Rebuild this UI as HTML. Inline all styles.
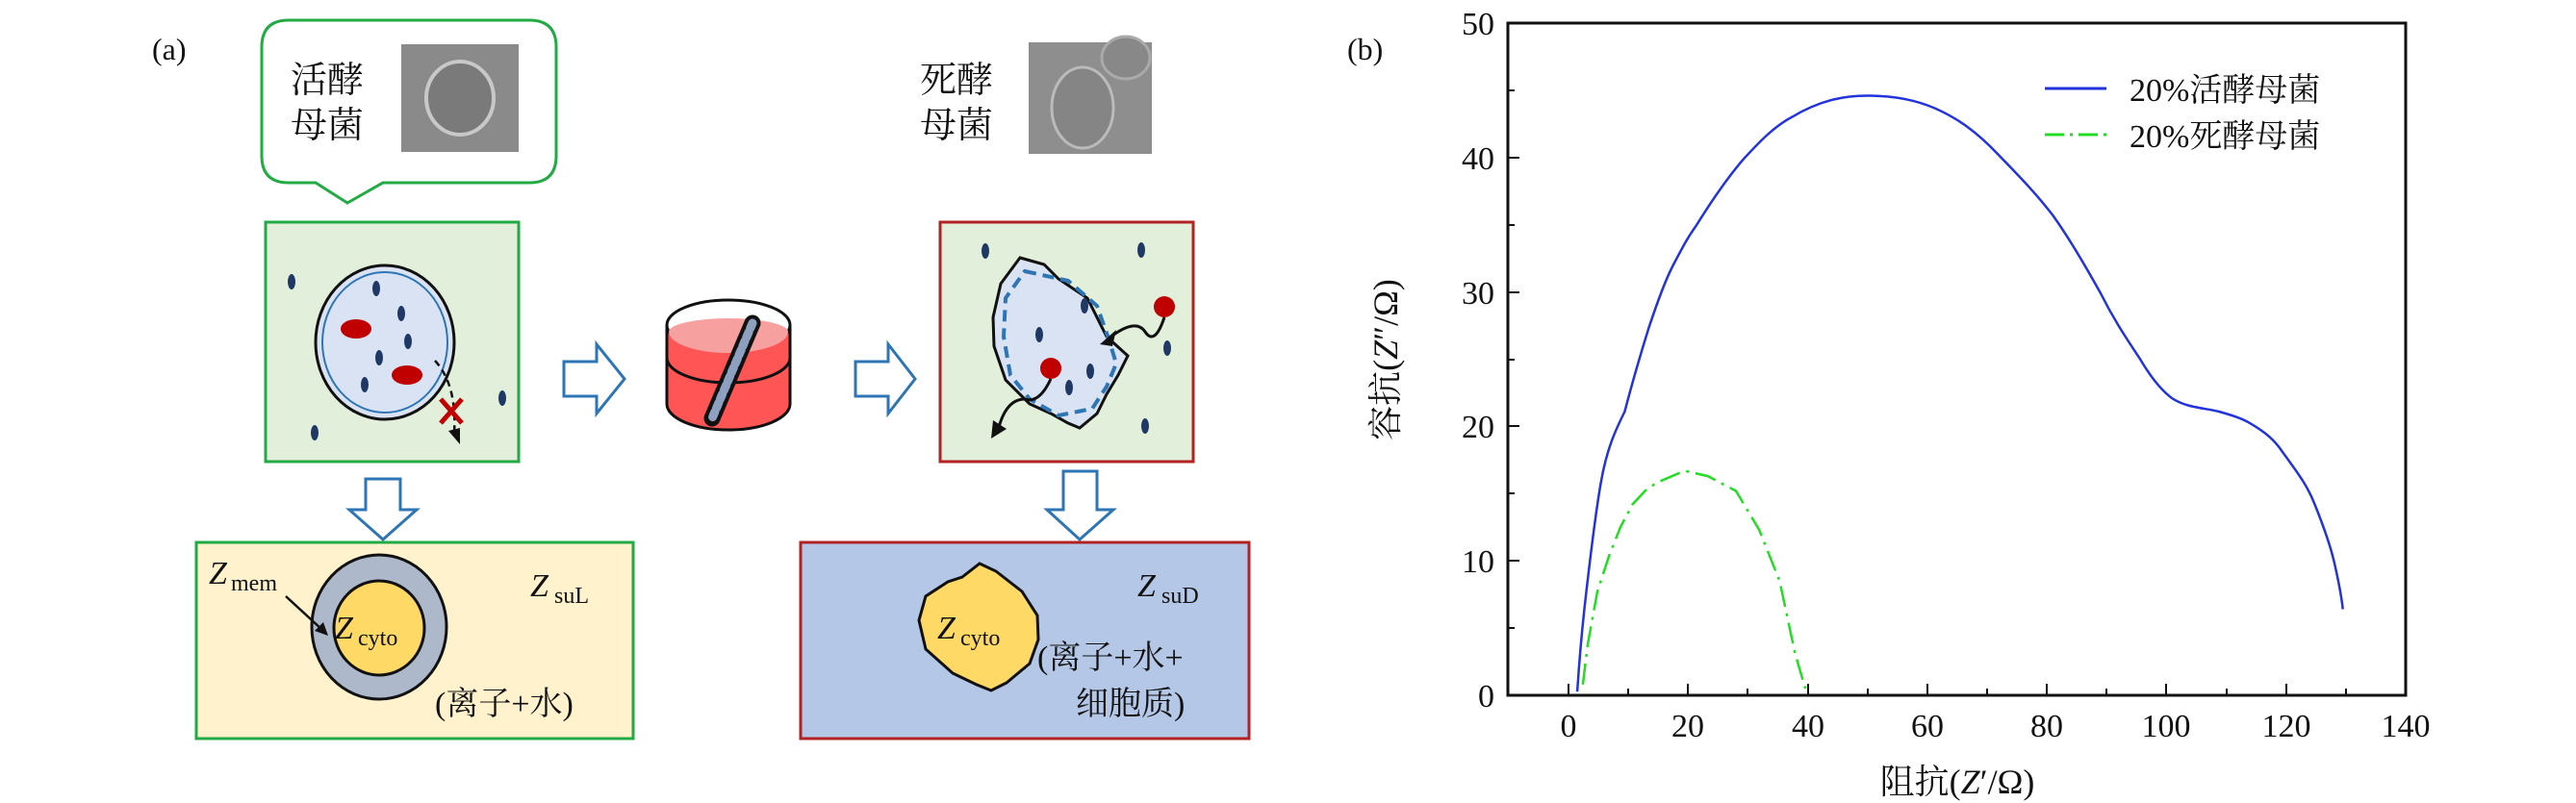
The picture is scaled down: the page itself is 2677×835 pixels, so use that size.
<!DOCTYPE html>
<html><head><meta charset="utf-8"><style>
html,body{margin:0;padding:0;background:#fff;}
svg{display:block;}
text{font-family:"Liberation Serif","Noto Serif CJK SC",serif;fill:#111;}
</style></head><body>
<svg width="2677" height="835" viewBox="0 0 2677 835" xmlns="http://www.w3.org/2000/svg">
<text x="158" y="62" font-size="32">(a)</text>
<path d="M300,21 H550 Q578,21 578,49 V162 Q578,190 550,190 H398 L361,211 L328,190 H300 Q272,190 272,162 V49 Q272,21 300,21 Z" fill="#fff" stroke="#22aa44" stroke-width="3"/>
<text x="302" y="96" font-size="38">活酵</text>
<text x="302" y="143" font-size="38">母菌</text>
<rect x="417" y="46" width="122" height="112" fill="#8a8a8a"/>
<ellipse cx="478" cy="102" rx="35" ry="38" fill="#7a7a7a" stroke="#c8c8c8" stroke-width="4"/>
<text x="956" y="96" font-size="38">死酵</text>
<text x="956" y="143" font-size="38">母菌</text>
<rect x="1069" y="44" width="128" height="116" fill="#8e8e8e"/>
<ellipse cx="1125" cy="112" rx="32" ry="42" fill="#858585" stroke="#bbb" stroke-width="3"/>
<ellipse cx="1170" cy="60" rx="25" ry="22" fill="#888" stroke="#aaa" stroke-width="3"/>
<rect x="276" y="231" width="263" height="249" fill="#e2efda" stroke="#22aa44" stroke-width="3"/>
<ellipse cx="400" cy="356" rx="72" ry="80" fill="#dae3f3" stroke="#111" stroke-width="3"/>
<ellipse cx="400" cy="356" rx="65" ry="73" fill="none" stroke="#2e75b6" stroke-width="2"/>
<g fill="#1f3864">
<ellipse cx="303" cy="293" rx="4" ry="8"/><ellipse cx="391" cy="300" rx="4" ry="8"/><ellipse cx="417" cy="326" rx="4" ry="8"/><ellipse cx="424" cy="355" rx="4" ry="8"/><ellipse cx="394" cy="372" rx="4" ry="8"/><ellipse cx="379" cy="400" rx="4" ry="8"/><ellipse cx="522" cy="414" rx="4" ry="8"/><ellipse cx="327" cy="450" rx="4" ry="8"/></g>
<g fill="#c00000"><ellipse cx="370" cy="342" rx="16" ry="10"/><ellipse cx="423" cy="390" rx="16" ry="10"/></g>
<path d="M452,375 Q475,400 472,450" fill="none" stroke="#111" stroke-width="2.5" stroke-dasharray="7,5"/>
<path d="M466,448 L478,462 L478,445 Z" fill="#111"/>
<path d="M458,415 L480,440 M480,415 L458,440" stroke="#c00000" stroke-width="5"/>
<path d="M586,376 H620 V358 L649,394 L620,430 V412 H586 Z" fill="#fff" stroke="#2e75b6" stroke-width="3"/>
<path d="M889,376 H923 V358 L951,394 L923,430 V412 H889 Z" fill="#fff" stroke="#2e75b6" stroke-width="3"/>
<path d="M693,338 V420 A64,27 0 0 0 821,420 V338" fill="#ff5555" stroke="#111" stroke-width="3"/>
<ellipse cx="757" cy="338" rx="64" ry="26" fill="#fff" stroke="#111" stroke-width="3"/>
<path d="M695,345 A62,22 0 0 0 819,345 A62,14 0 0 0 695,345 Z" fill="#f7a0a0"/>
<path d="M693,372 A64,26 0 0 0 821,372" fill="none" stroke="#111" stroke-width="3"/>
<path d="M782,336 L740,435" stroke="#111" stroke-width="17" stroke-linecap="round"/>
<path d="M782,336 L740,435" stroke="#8ea0c0" stroke-width="9" stroke-linecap="round" stroke-dasharray="6,4"/>
<rect x="977" y="231" width="263" height="249" fill="#e2efda" stroke="#b22222" stroke-width="3"/>
<path d="M1060,268 L1085,275 L1100,290 L1130,310 L1150,350 L1172,370 L1162,390 L1150,410 L1140,430 L1122,445 L1110,440 L1092,430 L1070,420 L1045,395 L1033,360 L1032,330 L1040,295 Z" fill="#dae3f3" stroke="#111" stroke-width="3"/>
<path d="M1065,282 L1110,292 L1140,318 L1152,352 L1160,378 L1150,402 L1135,425 L1100,432 L1070,415 L1050,390 L1043,350 L1045,310 Z" fill="none" stroke="#2e75b6" stroke-width="4" stroke-dasharray="12,7"/>
<g fill="#1f3864">
<ellipse cx="1024" cy="261" rx="4" ry="8"/><ellipse cx="1186" cy="260" rx="4" ry="8"/><ellipse cx="1127" cy="318" rx="4" ry="8"/><ellipse cx="1080" cy="348" rx="4" ry="8"/><ellipse cx="1213" cy="362" rx="4" ry="8"/><ellipse cx="1133" cy="386" rx="4" ry="8"/><ellipse cx="1111" cy="403" rx="4" ry="8"/><ellipse cx="1190" cy="443" rx="4" ry="8"/></g>
<g fill="#c00000"><circle cx="1210" cy="319" r="11"/><circle cx="1092" cy="383" r="11"/></g>
<path d="M1210,330 Q1200,360 1190,345 Q1180,330 1152,352" fill="none" stroke="#111" stroke-width="3"/>
<path d="M1143,358 L1160,343 L1156,360 Z" fill="#111"/>
<path d="M1092,394 Q1080,420 1065,415 Q1045,415 1037,448" fill="none" stroke="#111" stroke-width="3"/>
<path d="M1030,456 L1032,437 L1046,446 Z" fill="#111"/>
<path d="M380,498 H416 V530 H433 L398,561 L363,530 H380 Z" fill="#fff" stroke="#2e75b6" stroke-width="3"/>
<path d="M1105,490 H1140 V530 H1157 L1122,561 L1088,530 H1105 Z" fill="#fff" stroke="#2e75b6" stroke-width="3"/>
<rect x="204" y="564" width="454" height="204" fill="#fff2cc" stroke="#22aa44" stroke-width="3"/>
<ellipse cx="394" cy="652" rx="70" ry="75" fill="#adb9ca" stroke="#111" stroke-width="3"/>
<ellipse cx="394" cy="653" rx="47" ry="49" fill="#ffd966" stroke="#111" stroke-width="3"/>
<path d="M297,620 L335,655" stroke="#111" stroke-width="2.5"/><path d="M341,661 L327,656 L336,647 Z" fill="#111"/>
<text x="217" y="607" font-size="34" font-style="italic">Z</text><text x="240" y="614" font-size="24">mem</text>
<text x="551" y="620" font-size="34" font-style="italic">Z</text><text x="576" y="627" font-size="24">suL</text>
<text x="348" y="664" font-size="34" font-style="italic">Z</text><text x="372" y="671" font-size="24">cyto</text>
<text x="452" y="743" font-size="34">(离子+水)</text>
<rect x="832" y="564" width="466" height="204" fill="#b4c7e7" stroke="#b22222" stroke-width="3"/>
<path d="M1000,600 L1018,586 L1035,594 L1062,615 L1078,640 L1079,665 L1070,690 L1046,710 L1030,718 L1015,712 L990,700 L962,675 L955,645 L962,620 L985,605 Z" fill="#ffd966" stroke="#111" stroke-width="3"/>
<text x="974" y="664" font-size="34" font-style="italic">Z</text><text x="998" y="671" font-size="24">cyto</text>
<text x="1182" y="620" font-size="34" font-style="italic">Z</text><text x="1207" y="627" font-size="24">suD</text>
<text x="1078" y="695" font-size="34">(离子+水+</text>
<text x="1118" y="743" font-size="34">细胞质)</text>

<text x="1400" y="62" font-size="32">(b)</text>
<rect x="1567" y="24" width="933" height="699" fill="none" stroke="#111" stroke-width="3"/>
<g stroke="#111" stroke-width="2">
<path d="M1630,723 v-12 M1692,723 v-7 M1754,723 v-12 M1816,723 v-7 M1879,723 v-12 M1941,723 v-7 M2003,723 v-12 M2065,723 v-7 M2127,723 v-12 M2189,723 v-7 M2251,723 v-12 M2314,723 v-7 M2376,723 v-12 M2438,723 v-7"/>
<path d="M1567,653 h7 M1567,583 h12 M1567,513 h7 M1567,443 h12 M1567,374 h7 M1567,304 h12 M1567,234 h7 M1567,164 h12 M1567,94 h7"/>
</g>
<g font-size="34" text-anchor="end">
<text x="1553" y="735">0</text><text x="1553" y="595">10</text><text x="1553" y="455">20</text><text x="1553" y="316">30</text><text x="1553" y="176">40</text><text x="1553" y="36">50</text>
</g>
<g font-size="34" text-anchor="middle">
<text x="1630" y="766">0</text><text x="1754" y="766">20</text><text x="1879" y="766">40</text><text x="2003" y="766">60</text><text x="2127" y="766">80</text><text x="2251" y="766">100</text><text x="2376" y="766">120</text><text x="2500" y="766">140</text>
</g>
<text x="2034" y="825" font-size="36" text-anchor="middle">阻抗(<tspan font-style="italic">Z</tspan>′/Ω)</text>
<text transform="translate(1452,374) rotate(-90)" font-size="36" text-anchor="middle">容抗(<tspan font-style="italic">Z</tspan>″/Ω)</text>
<path id="blue" fill="none" stroke="#2233dd" stroke-width="2.5" d="M1639.1,719.2 C1641,690 1644,655 1647.4,625.1 C1652,585 1657,540 1663.6,502.1 C1670,465 1680,445 1688.4,428 C1697,395 1705,368 1713.3,341.3 C1722,315 1730,293 1738.1,277 C1746,262 1753,248 1762.4,235.1 C1778,210 1795,185 1812.1,165.2 C1828,148 1843,132 1861.8,121.9 C1890,105 1915,99 1943.8,99.5 C1970,100 1990,104 2009.7,112.1 C2035,123 2055,138 2075.5,159.6 C2097,182 2115,200 2133.3,223.9 C2152,250 2168,278 2183,305 C2198,335 2212,355 2224.1,373.5 C2235,392 2245,405 2257,414 C2272,424 2290,424 2306.1,428 C2320,432 2330,435 2339,440.6 C2355,450 2364,458 2372,470 C2388,492 2398,505 2405.5,524.5 C2415,548 2421,565 2425.4,583.2 C2430,603 2433,618 2434.7,633.5"/>
<path fill="none" stroke="#22dd22" stroke-width="2.5" stroke-dasharray="22,7,3,7" d="M1644.9,711.8 L1650,670 L1660,615 L1672.3,577.6 L1684,548 L1696.5,524.5 L1710,510 L1721.3,502.1 L1750.6,489.5 L1774.8,495.1 L1804,510.5 L1828.2,551 L1849.4,604.2 L1865.5,679.7 L1876.1,716"/>
<path d="M2125,92 H2189" stroke="#2233dd" stroke-width="3"/>
<path d="M2125,140 H2189" stroke="#22dd22" stroke-width="3" stroke-dasharray="20,6,3,6"/>
<text x="2213" y="105" font-size="34">20%活酵母菌</text>
<text x="2213" y="153" font-size="34">20%死酵母菌</text>
</svg>
</body></html>
